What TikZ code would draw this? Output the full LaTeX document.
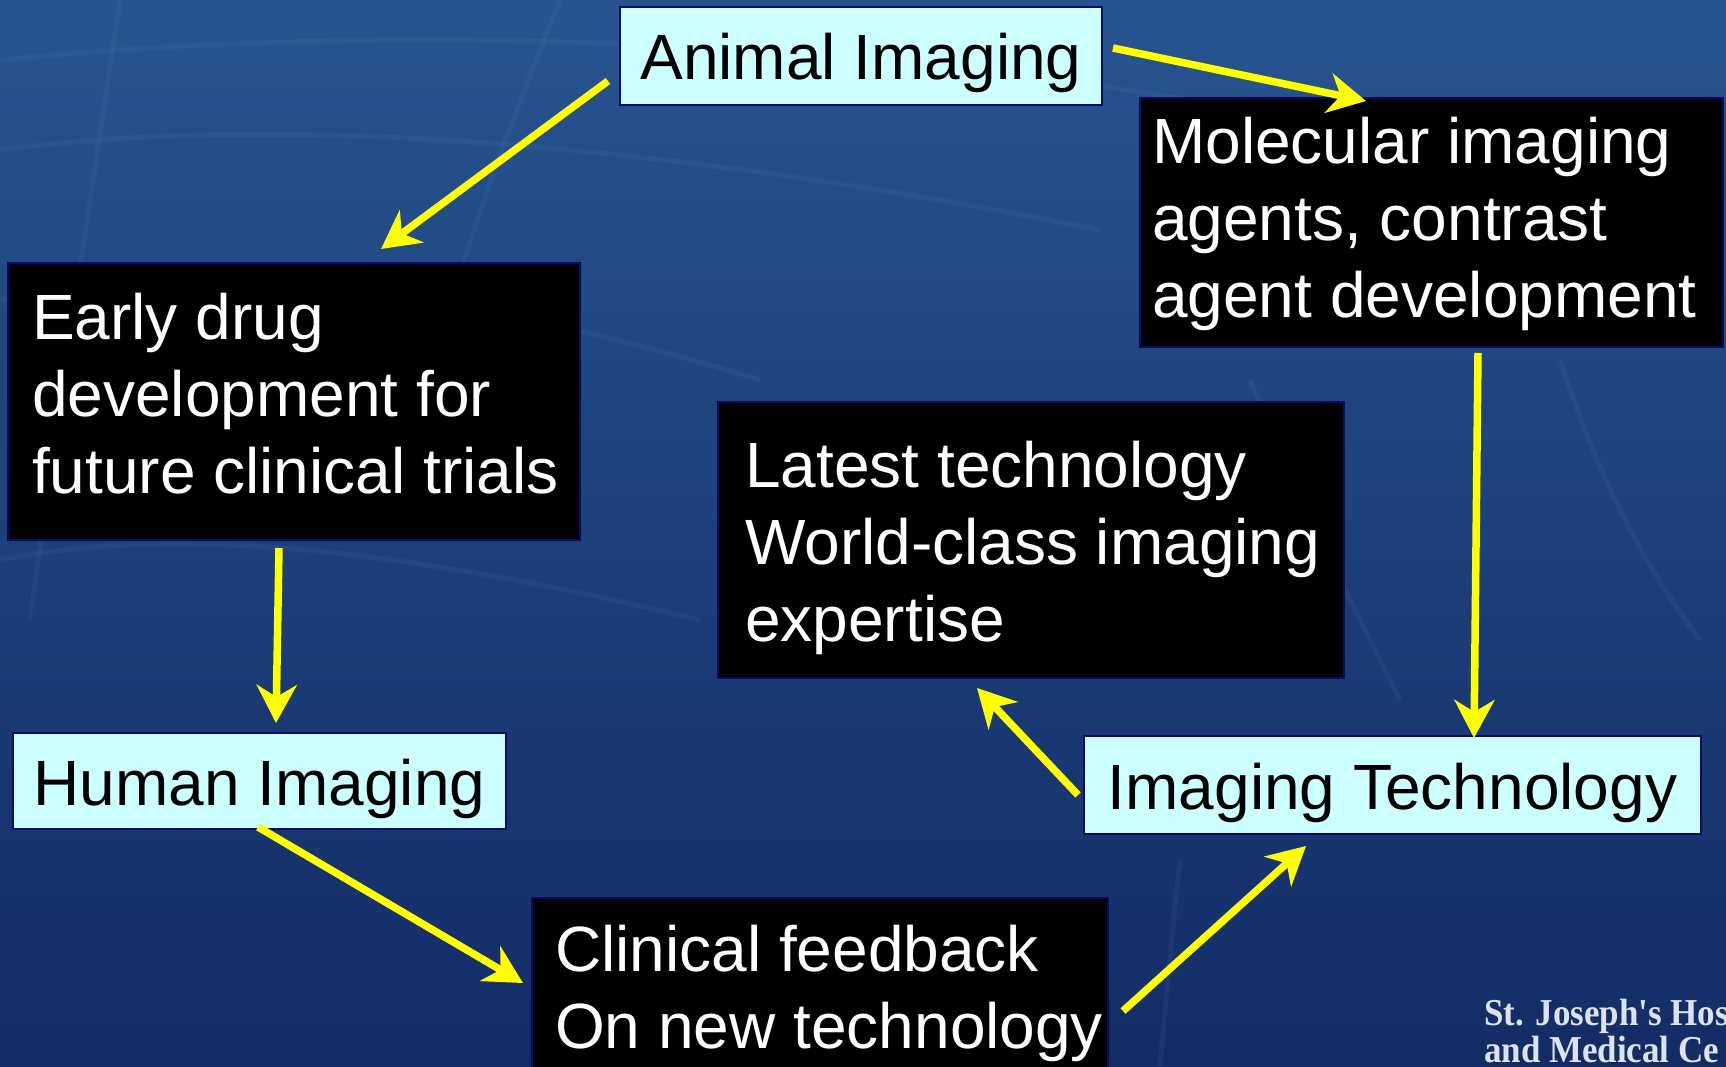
\documentclass[tikz,border=0pt]{standalone}
\usepackage{fontspec}
\setmainfont{Liberation Sans}
\newfontfamily\logofont{Liberation Serif}[FakeStretch=0.92]
\usetikzlibrary{arrows.meta}
\definecolor{boxcyan}{HTML}{CCFFFF}
\definecolor{boxedge}{HTML}{0A0A66}
\definecolor{arrowyellow}{HTML}{FFFF00}
\definecolor{bgtop}{HTML}{27548F}
\definecolor{bgmid}{HTML}{1D4382}
\definecolor{bgbot}{HTML}{132C66}
\definecolor{logowhite}{HTML}{DDE2EE}
\definecolor{streak}{HTML}{6FA0D8}
\begin{document}
\begin{tikzpicture}[x=1pt,y=-1pt,
  cyanbox/.style={draw=boxedge, line width=2pt, fill=boxcyan, inner sep=0pt, text=black,
    font=\fontsize{64}{77}\selectfont, text height=48pt, text depth=0pt},
  blackbox/.style={draw=boxedge, line width=2pt, fill=black, inner sep=0pt},
  boxtext/.style={anchor=north west, inner sep=0pt, align=left, text=white,
    font=\fontsize{64}{77}\selectfont},
  logotext/.style={anchor=base west, inner sep=0pt, text=logowhite,
    font=\logofont\bfseries\fontsize{38}{38}\selectfont},
  flow/.style={draw=arrowyellow, line width=7.5pt,
    -{Stealth[length=38pt,width=40pt,inset=12pt]}},
  texture/.style={draw=streak, opacity=0.08, line width=5pt},
]
\useasboundingbox (0,0) rectangle (1726,1067);
\begin{scope}
\clip (0,0) rectangle (1726,1067);
% background
\shade[top color=bgtop, middle color=bgmid, bottom color=bgbot] (0,0) rectangle (1726,1067);
% faint texture of the background
\draw[texture] (0,60) .. controls (400,20) and (900,40) .. (1300,120);
\draw[texture] (0,150) .. controls (300,110) and (700,150) .. (1100,230);
\draw[texture] (0,300) .. controls (250,260) and (500,300) .. (760,380);
\draw[texture] (0,560) .. controls (200,520) and (450,560) .. (700,620);
\draw[texture] (120,0) .. controls (90,200) and (60,400) .. (30,620);
\draw[texture] (560,0) .. controls (500,150) and (460,260) .. (430,380);
\draw[texture] (1250,380) .. controls (1300,500) and (1350,600) .. (1400,700);
\draw[texture] (1560,360) .. controls (1600,480) and (1640,560) .. (1700,640);
\draw[texture] (1180,860) .. controls (1170,950) and (1165,1010) .. (1160,1067);
% boxes
\node[cyanbox, minimum width=482pt, minimum height=98pt] (animal) at (861,56) {Animal Imaging};
\node[blackbox, minimum width=583pt, minimum height=249pt] (molec) at (1431.5,222.5) {};
\node[blackbox, minimum width=572pt, minimum height=277pt] (early) at (294,401.5) {};
\node[blackbox, minimum width=626pt, minimum height=276pt] (latest) at (1031,540) {};
\node[cyanbox, minimum width=493pt, minimum height=96pt] (human) at (259.5,781) {Human Imaging};
\node[cyanbox, minimum width=617pt, minimum height=98pt] (imgtech) at (1392.5,785) {Imaging Technology};
\node[blackbox, minimum width=576pt, minimum height=192pt] (clinical) at (820,994) {};
% texts of black boxes
\node[boxtext] (molec-t) at (1152,109) {\strut Molecular imaging\\agents, contrast\\agent development};
\node[boxtext] (early-t) at (32,285) {\strut Early drug\\development for\\future clinical trials};
\node[boxtext] (latest-t) at (745,433) {\strut Latest technology\\World-class imaging\\expertise};
\node[boxtext] (clinical-t) at (555,917) {\strut Clinical feedback\\On new technology};
% logo
\node[logotext] (logo1) at (1484,1025) {St. Joseph's Hos};
\node[logotext] (logo2) at (1484,1062) {and Medical Ce};
% arrows
\draw[flow] ([shift={(-11,25)}]animal.west) -- ([shift={(87,-13)}]early.north);
\draw[flow] ([shift={(10,-8)}]animal.east) -- ([shift={(227,4)}]molec.north west);
\draw[flow] ([shift={(46.5,5)}]molec.south) -- ([shift={(81.5,3)}]imgtech.north);
\draw[flow] ([shift={(-5,10)}]imgtech.west) -- ([shift={(-54,9)}]latest.south);
\draw[flow] ([shift={(14,114)}]clinical.north east) -- ([shift={(-86.5,11)}]imgtech.south);
\draw[flow] ([shift={(-1.5,-3)}]human.south) -- ([shift={(-8,86)}]clinical.north west);
\draw[flow] ([shift={(-15,7)}]early.south) -- ([shift={(16.5,-9)}]human.north);
\end{scope}
\end{tikzpicture}
\end{document}
